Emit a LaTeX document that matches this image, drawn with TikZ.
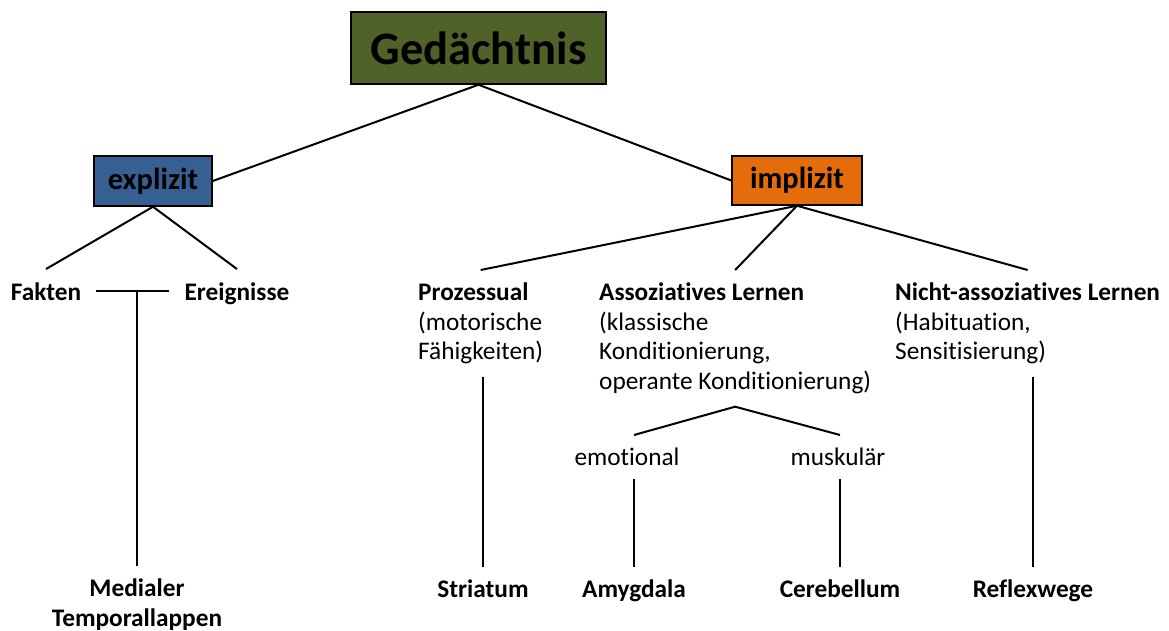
\documentclass[tikz,border=0pt]{standalone}
\usepackage{fontspec}
\setmainfont{Carlito}[Ligatures=NoCommon]
\usetikzlibrary{positioning}
\definecolor{MemGreen}{HTML}{4F6228}
\definecolor{MemBlue}{HTML}{376092}
\definecolor{MemOrange}{HTML}{E46C0A}

\begin{document}
\begin{tikzpicture}[x=1pt, y=-1pt,
        box/.style={draw=black, line width=1.5pt, inner sep=0pt, font=\fontsize{30.5}{36}\selectfont\bfseries},
        lbl/.style={inner xsep=15pt, inner ysep=13pt, font=\fontsize{25.3}{29.4}\selectfont},
        head/.style={lbl, font=\fontsize{25.3}{29.4}\selectfont\bfseries},
        region/.style={head, anchor=north, text height=17pt, text depth=6pt},
        link/.style={line width=2pt}
    ]
    \useasboundingbox (0,0) rectangle (1169,631);

    % Boxes
    \node[box, fill=MemGreen, minimum width=255pt, minimum height=72pt, font=\fontsize{46.5}{54}\selectfont\bfseries] (ged) at (478.5,48) {Gedächtnis};
    \node[box, fill=MemBlue, minimum width=118pt, minimum height=50pt] (expl) at (153,181) {explizit};
    \node[box, fill=MemOrange, minimum width=130pt, minimum height=49pt] (impl) at (797,180.5) {implizit};

    % Explicit branch
    \node[head, anchor=base] (fakten) at (46,300) {Fakten};
    \node[head, anchor=base] (ereig) at (237,300) {Ereignisse};
    \node[head, anchor=north, align=center] (medial) at (137,566) {Medialer\\Temporallappen};

    % Implicit branch
    \node[lbl, anchor=north west, align=left] (proz) at (403,270) {\textbf{Prozessual}\\(motorische\\Fähigkeiten)};
    \node[lbl, anchor=north west, align=left] (assoz) at (584,270) {\textbf{Assoziatives Lernen}\\(klassische\\Konditionierung,\\operante Konditionierung)};
    \node[lbl, anchor=north west, align=left] (nicht) at (880,270) {\textbf{Nicht-assoziatives Lernen}\\(Habituation,\\Sensitisierung)};
    \node[lbl, anchor=north] (emo) at (627,435) {emotional};
    \node[lbl, anchor=north] (musk) at (838,435) {muskulär};

    % Brain regions
    \node[region] (stri) at (483,567) {Striatum};
    \node[region] (amyg) at (634,567) {Amygdala};
    \node[region] (cere) at (840,567) {Cerebellum};
    \node[region] (reflex) at (1033,567) {Reflexwege};

    % Tree lines
    \draw[link] (ged.south) -- (expl.east);
    \draw[link] (ged.south) -- (impl.west);
    \draw[link] (expl.south) -- (fakten.north);
    \draw[link] (expl.south) -- (ereig.north);
    \draw[link] (fakten.east) -- (fakten.east -| ereig.west);
    \draw[link] (medial.north) -- (medial.north |- fakten.east);
    \foreach \n in {proz, assoz, nicht} \draw[link] (impl.south) -- (\n.north);
    \draw[link] (emo.north -| amyg.north) -- (assoz.south) -- (musk.north -| cere.north);

    % Down to the regions
    \draw[link] (stri.north) -- (stri.north |- proz.south);
    \draw[link] (amyg.north) -- (amyg.north |- emo.south);
    \draw[link] (cere.north) -- (cere.north |- musk.south);
    \draw[link] (reflex.north) -- (reflex.north |- nicht.south);

\end{tikzpicture}
\end{document}
